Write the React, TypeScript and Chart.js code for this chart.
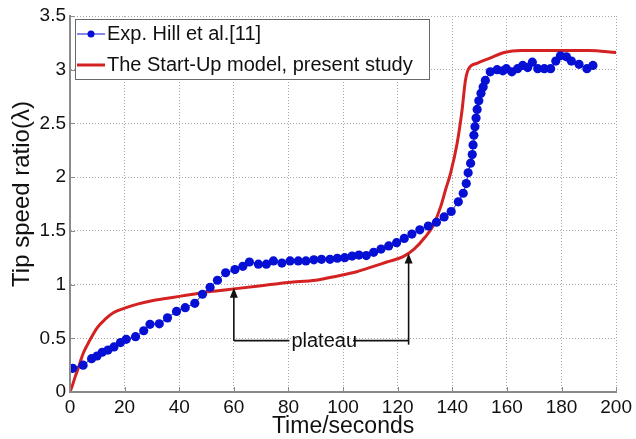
import React, { useEffect, useRef } from "react";
import { Chart, registerables } from "chart.js";

Chart.register(...registerables);

// ---- data ----
const expTime = [
  1, 4.8, 7.9, 9.9, 11.8, 13.9, 16.1, 18.5, 20.6, 24, 27, 29.3, 32.7, 35.7, 39, 42.2, 45.7, 48.5,
  51.3, 54, 57, 60.4, 63.3, 65.7, 69, 71.9, 74.5, 77.6, 80.6, 83.6, 86.4, 89.3, 92.1, 95.2, 97.9,
  100.6, 103.3, 105.8, 108.5, 111.2, 113.9, 116.7, 119.6, 122.4, 125.2, 128.1, 131.2, 134.2, 137,
  139.6, 142.2, 144, 145.1, 145.8, 146.7, 147.3, 147.6, 147.9, 148.3, 148.7, 149.1, 149.7, 150.5,
  151.3, 152.1, 153.9, 156.4, 158.5, 159.8, 161.8, 163.9, 165.8, 167.6, 169.3, 171.3, 173.7, 176,
  177.9, 179.6, 181.8, 183.6, 186.4, 189.3, 191.5,
];
const expTsr = [
  0.22, 0.25, 0.31, 0.335, 0.37, 0.39, 0.42, 0.46, 0.49, 0.515, 0.57, 0.63, 0.635, 0.69, 0.75, 0.785,
  0.825, 0.91, 0.975, 1.04, 1.11, 1.14, 1.17, 1.21, 1.19, 1.19, 1.22, 1.2, 1.22, 1.22, 1.22, 1.23,
  1.235, 1.235, 1.245, 1.25, 1.265, 1.275, 1.27, 1.3, 1.33, 1.36, 1.39, 1.43, 1.47, 1.51, 1.545,
  1.58, 1.63, 1.68, 1.77, 1.85, 1.94, 2.04, 2.13, 2.21, 2.3, 2.39, 2.47, 2.55, 2.63, 2.71, 2.78,
  2.84, 2.9, 2.98, 3.0, 2.99, 3.01, 2.98, 3.01, 3.04, 3.02, 3.07, 3.01, 3.01, 3.01, 3.08, 3.13,
  3.12, 3.08, 3.05, 3.01, 3.04,
];
const modelTime = [
  0, 1, 2, 3, 4, 5, 7, 10, 13, 16, 20, 25, 30, 35, 40, 45, 50, 55, 60, 70, 80, 90, 98, 105, 110,
  116, 122, 126, 130, 133, 135.8, 137.5, 139.4, 141.8, 143.6, 144.8, 146, 149, 154, 159, 165, 170,
  180, 190, 200,
];
const modelTsr = [
  0, 0.07, 0.15, 0.22, 0.3, 0.37, 0.47, 0.6, 0.68, 0.74, 0.78, 0.82, 0.85, 0.87, 0.89, 0.91, 0.93,
  0.945, 0.96, 0.99, 1.02, 1.04, 1.08, 1.12, 1.16, 1.21, 1.26, 1.33, 1.44, 1.55, 1.73, 1.88, 2.04,
  2.32, 2.63, 2.9, 3.01, 3.06, 3.11, 3.16, 3.18, 3.18, 3.18, 3.18, 3.16,
];
const xTicks = [0, 20, 40, 60, 80, 100, 120, 140, 160, 180, 200];
const yTicks = [0, 0.5, 1, 1.5, 2, 2.5, 3, 3.5];
const seriesLabels = ["Exp. Hill et al.[11]", "The Start-Up model, present study"];
const xTitle = "Time/seconds";
const yTitle = "Tip speed ratio(λ)";
const annotationText = "plateau";
const arrowTimes = [60, 124];
const arrowTips = [0.97, 1.29];
const bracketLevel = 0.478;

const FONT = '"Liberation Sans", Arial, sans-serif';
const BLUE = "#0610d4";
const RED = "#d42222";
const GRID = "#a8a8a8";
const AXIS = "#8a8a8a";

const overlay = {
  id: "overlay",
  afterDraw(chart: any) {
    const ctx = chart.ctx as CanvasRenderingContext2D;
    const xs = chart.scales.x;
    const ys = chart.scales.y;
    const area = chart.chartArea;
    ctx.save();

    // inward tick marks
    ctx.strokeStyle = AXIS;
    ctx.lineWidth = 1;
    ctx.setLineDash([]);
    ctx.beginPath();
    for (const t of xTicks) {
      const px = Math.round(xs.getPixelForValue(t)) + 0.5;
      ctx.moveTo(px, area.bottom);
      ctx.lineTo(px, area.bottom - 5);
    }
    for (const t of yTicks) {
      const py = Math.round(ys.getPixelForValue(t)) + 0.5;
      ctx.moveTo(area.left, py);
      ctx.lineTo(area.left + 5, py);
    }
    ctx.stroke();

    // axis titles
    ctx.fillStyle = "#111";
    ctx.font = `23px ${FONT}`;
    ctx.textAlign = "center";
    ctx.textBaseline = "middle";
    ctx.fillText(xTitle, (area.left + area.right) / 2, 427);
    ctx.save();
    ctx.translate(22, 194);
    ctx.rotate(-Math.PI / 2);
    ctx.font = `24px ${FONT}`;
    ctx.fillText(yTitle, 0, 0);
    ctx.restore();

    // annotation
    const yb = ys.getPixelForValue(bracketLevel);
    const xl = xs.getPixelForValue(arrowTimes[0]);
    const xr = xs.getPixelForValue(arrowTimes[1]);
    ctx.font = `20px ${FONT}`;
    const tw = ctx.measureText(annotationText).width;
    const xm = (xl + xr) / 2 + 3;
    ctx.strokeStyle = "#111";
    ctx.fillStyle = "#111";
    ctx.lineWidth = 1.6;
    ctx.beginPath();
    ctx.moveTo(xl, yb);
    ctx.lineTo(xm - tw / 2 - 2, yb);
    ctx.moveTo(xm + tw / 2 - 4, yb);
    ctx.lineTo(xr, yb);
    ctx.stroke();
    ctx.fillText(annotationText, xm, yb + 1);
    arrowTimes.forEach((t, i) => {
      const px = xs.getPixelForValue(t);
      const tip = ys.getPixelForValue(arrowTips[i]);
      const bottom = i === 1 ? yb + 4 : yb;
      ctx.beginPath();
      ctx.moveTo(px, bottom);
      ctx.lineTo(px, tip + 8);
      ctx.stroke();
      ctx.beginPath();
      ctx.moveTo(px, tip);
      ctx.lineTo(px - 4, tip + 10);
      ctx.lineTo(px + 4, tip + 10);
      ctx.closePath();
      ctx.fill();
    });

    // legend
    const lx = 75.5, ly = 19.5, lw = 354, lh = 60;
    ctx.fillStyle = "#fff";
    ctx.fillRect(lx, ly, lw, lh);
    ctx.strokeStyle = "#6a6a6a";
    ctx.lineWidth = 1;
    ctx.strokeRect(lx, ly, lw, lh);
    const rows = [34, 65];
    ctx.strokeStyle = BLUE;
    ctx.lineWidth = 1;
    ctx.beginPath();
    ctx.moveTo(77, rows[0]);
    ctx.lineTo(105, rows[0]);
    ctx.stroke();
    ctx.fillStyle = BLUE;
    ctx.beginPath();
    ctx.arc(91, rows[0], 3.5, 0, Math.PI * 2);
    ctx.fill();
    ctx.strokeStyle = RED;
    ctx.lineWidth = 3;
    ctx.beginPath();
    ctx.moveTo(77, rows[1]);
    ctx.lineTo(105, rows[1]);
    ctx.stroke();
    ctx.fillStyle = "#111";
    ctx.font = `20px ${FONT}`;
    ctx.textAlign = "left";
    ctx.textBaseline = "middle";
    ctx.fillText(seriesLabels[0], 107, rows[0]);
    ctx.fillText(seriesLabels[1], 107, rows[1]);

    ctx.restore();
  },
};

export default function App() {
  const ref = useRef<HTMLCanvasElement | null>(null);
  useEffect(() => {
    document.body.style.margin = "0";
    const canvas = ref.current;
    if (!canvas) return;
    const chart = new Chart(canvas, {
      type: "scatter",
      data: {
        datasets: [
          {
            label: seriesLabels[0],
            data: expTime.map((t, i) => ({ x: t, y: expTsr[i] })),
            showLine: true,
            borderColor: BLUE,
            borderWidth: 1,
            backgroundColor: BLUE,
            pointRadius: 4.6,
            pointBorderWidth: 0,
            order: 0,
          },
          {
            label: seriesLabels[1],
            data: modelTime.map((t, i) => ({ x: t, y: modelTsr[i] })),
            showLine: true,
            borderColor: RED,
            borderWidth: 3,
            pointRadius: 0,
            cubicInterpolationMode: "monotone",
            order: 1,
          },
        ],
      },
      options: {
        responsive: false,
        animation: false,
        layout: { padding: { top: 16, right: 16, left: 0, bottom: 0 } },
        plugins: { legend: { display: false }, tooltip: { enabled: false } },
        scales: {
          x: {
            type: "linear",
            min: 0,
            max: 200,
            afterBuildTicks: (s: any) => {
              s.ticks = xTicks.map((v) => ({ value: v }));
            },
            afterFit: (s: any) => {
              s.height = 47;
            },
            grid: { color: GRID, lineWidth: 1, drawTicks: false, tickLength: 0 },
            border: { color: AXIS, width: 2, dash: [1, 2] },
            ticks: {
              padding: 4,
              color: "#111",
              font: { family: FONT, size: 19 },
              maxRotation: 0,
              autoSkip: false,
              callback: (v: any) => String(v),
            },
          },
          y: {
            type: "linear",
            min: 0,
            max: 3.5,
            afterBuildTicks: (s: any) => {
              s.ticks = yTicks.map((v) => ({ value: v }));
            },
            afterFit: (s: any) => {
              s.width = 70;
            },
            grid: { color: GRID, lineWidth: 1, drawTicks: false, tickLength: 0 },
            border: { color: AXIS, width: 2, dash: [1, 2] },
            ticks: {
              padding: 4,
              color: "#111",
              font: { family: FONT, size: 19 },
              autoSkip: false,
              callback: (v: any) => String(v),
            },
          },
        },
      },
      plugins: [
        {
          id: "solidAxes",
          afterDraw(chart: any) {
            const ctx = chart.ctx as CanvasRenderingContext2D;
            const a = chart.chartArea;
            ctx.save();
            ctx.setLineDash([]);
            ctx.strokeStyle = AXIS;
            ctx.lineWidth = 2;
            ctx.beginPath();
            ctx.moveTo(a.left, a.top);
            ctx.lineTo(a.left, a.bottom);
            ctx.lineTo(a.right, a.bottom);
            ctx.stroke();
            ctx.restore();
          },
        },
        overlay,
      ],
    } as any);
    return () => chart.destroy();
  }, []);
  return (
    <div style={{ position: "absolute", left: 0, top: 0 }}>
      <canvas ref={ref} width={636} height={439} style={{ display: "block" }} />
    </div>
  );
}
